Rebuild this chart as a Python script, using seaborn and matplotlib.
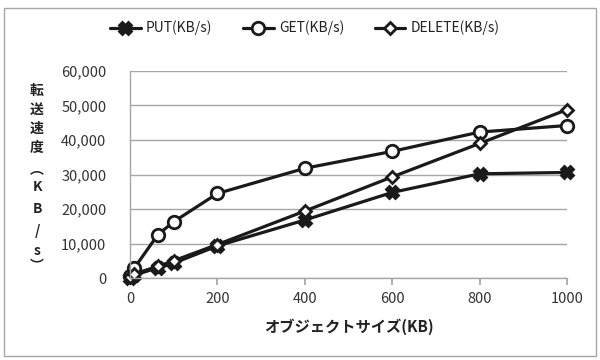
import matplotlib
matplotlib.use("Agg")
import matplotlib.pyplot as plt
import matplotlib.ticker as mticker
from matplotlib.patches import Rectangle
import seaborn as sns
import pandas as pd

sizes_kb = [1, 10, 64, 100, 200, 400, 600, 800, 1000]
put_kbs = [100, 800, 3000, 4300, 9300, 16800, 24800, 30200, 30600]
get_kbs = [500, 2900, 12600, 16300, 24500, 31800, 36700, 42300, 44200]
delete_kbs = [300, 1200, 3400, 5000, 9700, 19400, 29300, 39000, 48800]
series_names = ["PUT(KB/s)", "GET(KB/s)", "DELETE(KB/s)"]
y_ticks = [0, 10000, 20000, 30000, 40000, 50000, 60000]
x_ticks = [0, 200, 400, 600, 800, 1000]
ylabel_chars = ["転", "送", "速", "度", "︵", "K", "B", "/", "s", "︶"]

sns.set_theme(style="white")
plt.rcParams["font.family"] = ["Noto Sans CJK JP", "DejaVu Sans"]

fig = plt.figure(figsize=(6, 3.6), dpi=100)
ax = fig.add_axes([130 / 600, 1 - 278 / 360, (567 - 130) / 600, (278 - 71) / 360])

df = pd.DataFrame({
    "size": sizes_kb * 3,
    "value": put_kbs + get_kbs + delete_kbs,
    "series": [series_names[0]] * len(sizes_kb) + [series_names[1]] * len(sizes_kb) + [series_names[2]] * len(sizes_kb),
})

styles = {
    series_names[0]: dict(marker="X", markersize=8, markerfacecolor="#1a1a1a"),
    series_names[1]: dict(marker="o", markersize=9, markerfacecolor="white"),
    series_names[2]: dict(marker="D", markersize=6.5, markerfacecolor="white"),
}
for name in series_names:
    sub = df[df["series"] == name]
    sns.lineplot(data=sub, x="size", y="value", ax=ax, color="#1a1a1a", linewidth=2.3,
                 markeredgecolor="#1a1a1a", markeredgewidth=2, label=name, clip_on=False,
                 **styles[name])

ax.set_xlim(0, 1000)
ax.set_ylim(0, 60000)
ax.set_xticks(x_ticks)
ax.set_yticks(y_ticks)
ax.yaxis.set_major_formatter(mticker.FuncFormatter(lambda v, p: f"{int(v):,}"))
ax.grid(axis="y", color="#a6a6a6", linewidth=1)
ax.grid(axis="x", visible=False)
for s in ["top", "right"]:
    ax.spines[s].set_visible(False)
for s in ["left", "bottom"]:
    ax.spines[s].set_color("#a6a6a6")
    ax.spines[s].set_linewidth(1)
ax.tick_params(axis="x", bottom=True, length=5, color="#a6a6a6", labelsize=10.5, pad=5, labelcolor="#333333")
ax.tick_params(axis="y", left=False, labelsize=10.5, pad=11, labelcolor="#333333")
ax.set_xlabel("オブジェクトサイズ(KB)", fontsize=11, fontweight="bold", labelpad=9, color="#222222")
ax.set_ylabel("")

ylabel_y = [91, 110, 129, 148, 170, 187, 209, 231, 251, 266]
for ch, yy in zip(ylabel_chars, ylabel_y):
    fig.text(37 / 600, 1 - yy / 360, ch, ha="center", va="center", fontsize=10,
             fontweight="bold", color="#222222")

leg = ax.legend(loc="center", bbox_to_anchor=(305 / 600, 1 - 28 / 360), bbox_transform=fig.transFigure,
                ncol=3, frameon=False, fontsize=10, handlelength=2.2, columnspacing=2.2, handletextpad=0.4)
for t in leg.get_texts():
    t.set_color("#222222")

fig.patches.append(Rectangle((4 / 600, 4 / 360), 592 / 600, 348 / 360, transform=fig.transFigure,
                             fill=False, edgecolor="#a6a6a6", linewidth=1))
fig.savefig("out.png", dpi=100)
